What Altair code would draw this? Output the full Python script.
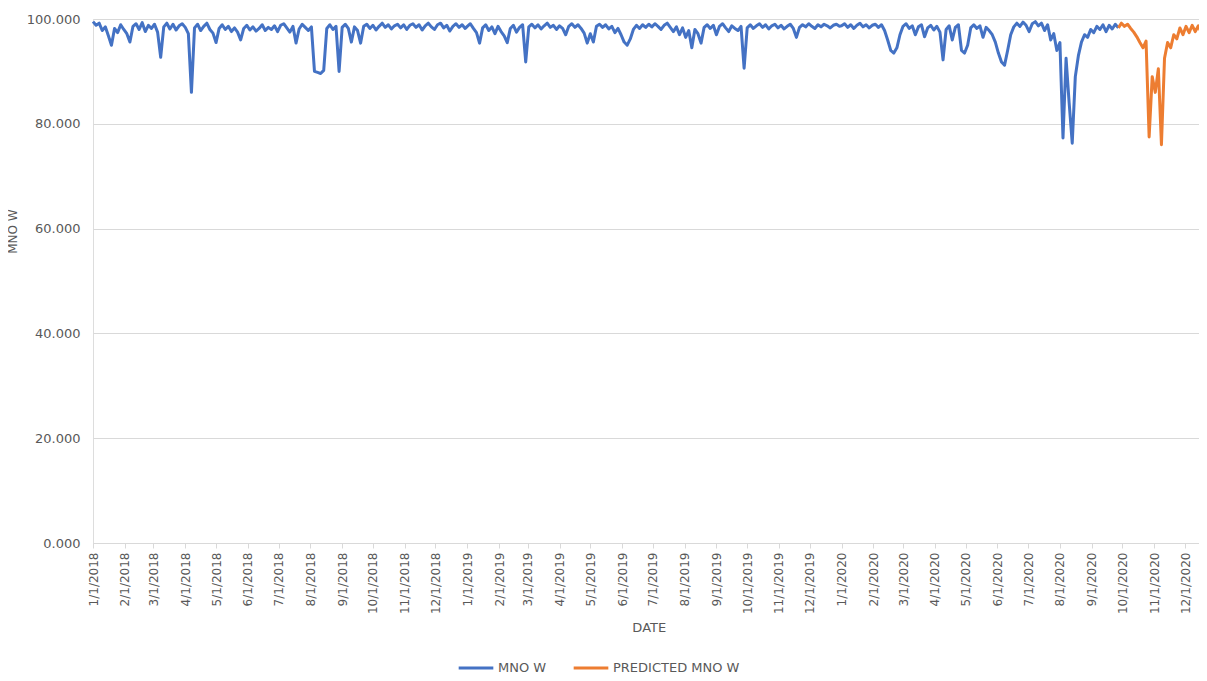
import altair as alt
import pandas as pd

blue_2018 = [
    99.5, 98.8, 99.2, 97.8, 98.5, 96.8, 95.0, 98.2, 97.4, 98.9,
    98.0, 97.2, 95.6, 98.6, 99.1, 98.0, 99.3, 97.6, 98.8, 98.2,
    99.0, 97.5, 92.7, 98.5, 99.2, 98.1, 99.0, 97.9, 98.7, 99.1,
    98.4, 97.2, 86.0, 98.3, 99.0, 97.8, 98.6, 99.2, 98.0, 97.3,
    95.5, 98.2, 98.9, 98.0, 98.6, 97.6, 98.3, 97.5, 96.0, 98.2,
    98.8, 97.9, 98.5, 97.7, 98.2, 98.9, 97.8, 98.4, 98.0, 98.7,
    97.6, 98.8, 99.1, 98.3, 97.5, 98.6, 95.4, 98.1, 99.0, 98.4,
    97.8, 98.5, 90.0, 89.8, 89.6, 90.2, 98.2, 98.9, 98.0, 98.6,
    90.0, 98.4, 99.0, 98.2, 95.6, 98.5, 97.8, 95.4, 98.6, 99.0,
    98.2, 98.8, 97.9, 98.6, 99.2, 98.4, 98.9, 98.1, 98.7, 99.0,
    98.3, 98.9, 98.0, 98.8, 99.1, 98.4, 98.9, 97.9, 98.7, 99.2,
    98.5, 98.0, 98.9, 99.2, 98.3, 98.8, 97.7, 98.6, 99.1, 98.4,
    98.9, 98.2,
]
blue_2019 = [
    98.6, 99.1, 98.2, 97.4, 95.4, 98.3, 98.9, 97.8, 98.5, 97.2,
    98.6, 97.6, 96.8, 95.5, 98.2, 98.8, 97.5, 98.4, 98.9, 91.8,
    98.5, 99.0, 98.3, 98.9, 98.1, 98.7, 99.2, 98.4, 98.8, 98.0,
    98.7, 98.2, 97.0, 98.6, 99.1, 98.4, 98.9, 98.2, 97.3, 95.4,
    97.2, 95.6, 98.6, 99.0, 98.4, 98.9, 98.1, 98.6, 97.4, 98.2,
    97.0, 95.6, 95.0, 96.2, 98.0, 98.8, 98.2, 98.9, 98.4, 99.0,
    98.5, 99.1, 98.6, 98.0, 98.8, 99.2, 98.4, 97.6, 98.5, 97.0,
    98.3, 96.5, 97.8, 94.5, 98.0, 97.2, 95.4, 98.4, 98.9, 98.2,
    98.8, 97.0, 98.6, 99.1, 98.3, 97.6, 98.7, 98.2, 97.8, 98.6,
    90.6, 98.3, 98.9, 98.2, 98.7, 99.1, 98.4, 98.9, 98.1, 98.7,
    99.0, 98.3, 98.8, 98.1, 98.6, 99.0, 98.2, 96.5, 98.4, 98.9,
    98.5, 99.1, 98.6, 98.2, 98.9, 98.5, 99.0, 98.7, 98.3, 98.8,
    99.0, 98.6,
]
blue_2020 = [
    98.7, 99.1, 98.4, 98.9, 98.2, 98.8, 99.2, 98.5, 98.9, 98.3,
    98.8, 99.0, 98.4, 98.9, 97.8, 96.0, 94.0, 93.5, 94.5, 97.0,
    98.6, 99.1, 98.2, 98.7, 97.0, 98.5, 98.9, 96.6, 98.3, 98.8,
    97.9, 98.6, 97.5, 92.2, 98.0, 98.7, 96.0, 98.4, 98.9, 94.0,
    93.5, 95.0, 98.3, 98.9, 98.2, 98.7, 96.5, 98.4, 97.8, 97.0,
    95.6, 93.5, 91.8, 91.2, 94.0, 97.0, 98.5, 99.2, 98.6, 99.4,
    98.8, 97.6, 99.1, 99.5, 98.7, 99.2, 97.8, 98.9, 96.0, 97.2,
    94.0, 95.5, 77.3, 92.5, 84.0, 76.3, 89.0, 93.0, 95.6, 97.0,
    96.5, 98.0, 97.4, 98.6, 98.0, 98.9, 97.6, 98.8, 98.1, 99.0,
    98.3,
]
# PREDICTED MNO W, every 3 days from 9/27/2020
predicted = [
    98.3, 99.2, 98.6, 99.0, 98.2, 97.5, 96.6, 95.5, 94.5, 95.8,
    77.5, 89.0, 86.0, 90.5, 76.0, 92.5, 95.5, 94.5, 97.0, 96.2,
    98.3, 97.0, 98.6, 97.4, 98.8, 97.6, 98.7, 97.3, 98.5,
]

series_names = ["MNO W", "PREDICTED MNO W"]
series_colors = ["#4472C4", "#ED7D31"]
y_ticks = [0, 20, 40, 60, 80, 100]


def frame(start, values, name):
    dates = pd.date_range(start, periods=len(values), freq="3D")
    return pd.DataFrame({"date": dates.strftime("%Y/%m/%d"), "value": values, "series": name})


df = pd.concat([
    frame("2018-01-01", blue_2018, series_names[0]),
    frame("2019-01-01", blue_2019, series_names[0]),
    frame("2020-01-01", blue_2020, series_names[0]),
    frame("2020-09-27", predicted, series_names[1]),
], ignore_index=True)

GRAY = "#595959"
FONT = "DejaVu Sans"

chart = alt.Chart(df).mark_line(strokeWidth=3, strokeJoin="round").encode(
    x=alt.X(
        "date:T",
        title="DATE",
        scale=alt.Scale(
            domain=[alt.DateTime(year=2018, month=1, date=1), alt.DateTime(year=2020, month=12, date=20)],
            range=[0, 1111.5],
        ),
        axis=alt.Axis(
            format="%-m/%-d/%Y",
            labelAngle=-90,
            tickCount=alt.TickCount(interval="month", step=1),
            grid=False,
            domainColor="#d9d9d9",
            tickColor="#d9d9d9",
            tickSize=5,
            labelPadding=4,
            labelFont=FONT,
            labelFontSize=12,
            labelColor=GRAY,
            titleFont=FONT,
            titleFontSize=13,
            titleFontWeight="normal",
            titleColor=GRAY,
            titlePadding=8,
        ),
    ),
    y=alt.Y(
        "value:Q",
        title="MNO W",
        scale=alt.Scale(domain=[0, 100], nice=False),
        axis=alt.Axis(
            values=y_ticks,
            format=".3f",
            grid=True,
            gridColor="#d9d9d9",
            domain=False,
            ticks=False,
            labelPadding=13,
            labelFont=FONT,
            labelFontSize=13,
            labelColor=GRAY,
            titleFont=FONT,
            titleFontSize=12,
            titleFontWeight="normal",
            titleColor=GRAY,
            titleX=-74,
            titleY=212,
        ),
    ),
    color=alt.Color(
        "series:N",
        scale=alt.Scale(domain=series_names, range=series_colors),
        legend=alt.Legend(
            orient="none",
            legendX=364,
            legendY=630,
            direction="horizontal",
            title=None,
            symbolType="stroke",
            symbolStrokeWidth=3,
            symbolSize=1200,
            labelFont=FONT,
            labelFontSize=13,
            labelColor=GRAY,
            columnPadding=20,
            labelOffset=3,
        ),
    ),
).properties(
    width=1106,
    height=524,
    padding={"left": 85, "top": 11, "right": 0, "bottom": 130},
    autosize=alt.AutoSizeParams(type="none"),
).configure_view(stroke=None).configure(font=FONT)

chart.save("out.html", embed_options={"renderer": "svg", "actions": False})
